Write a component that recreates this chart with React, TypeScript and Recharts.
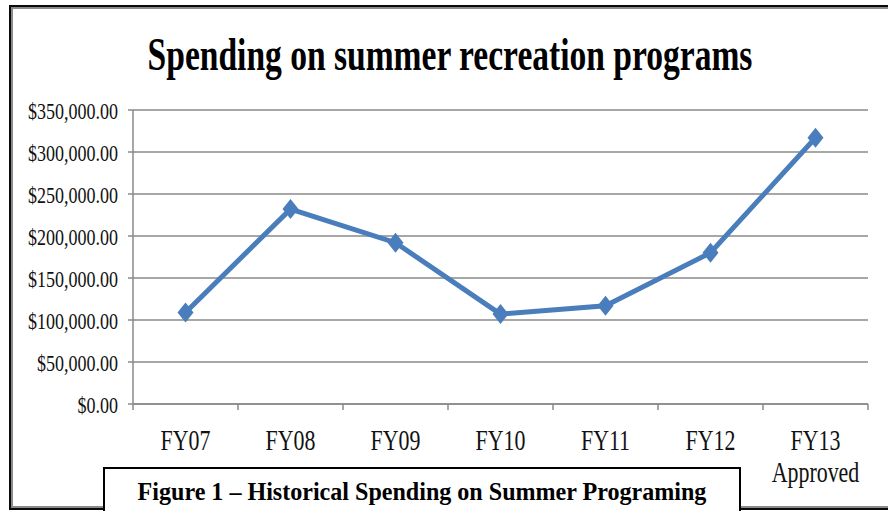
import React from 'react';
import { LineChart, Line, XAxis, YAxis, CartesianGrid } from 'recharts';

// values
const categories = ['FY07', 'FY08', 'FY09', 'FY10', 'FY11', 'FY12', 'FY13 Approved'];
const spending = [109000, 232000, 192000, 107000, 117000, 180000, 317000];
const yTicks = [0, 50000, 100000, 150000, 200000, 250000, 300000, 350000];

const title = 'Spending on summer recreation programs';
const caption = 'Figure 1 \u2013 Historical Spending on Summer Programing';

const data = categories.map((name, i) => ({ name, value: spending[i] }));

const serif = '"Liberation Serif", "Times New Roman", serif';
const lineBlue = '#4a7dbb';
const gridGray = '#8a8a8a';

const money = (v: number) =>
  '$' + v.toLocaleString('en-US', { minimumFractionDigits: 2, maximumFractionDigits: 2 });

// the source picture is squeezed sideways, so the text is too
const MoneyTick = (props: any) => {
  const { x, y, payload } = props;
  return (
    <g transform={`translate(${x},${y + 9})`}>
      <text transform="scale(0.75,1)" textAnchor="end" fontSize={24} fill="#111" fontFamily={serif}>
        {money(payload.value)}
      </text>
    </g>
  );
};

// label under the band centre, tick marks on the band edges (Excel style)
const CategoryTick = (props: any) => {
  const { x, y, payload, index, visibleTicksCount } = props;
  const half = payload.offset || 0;
  const lines = String(payload.value).split(' ');
  const isLast = index === (visibleTicksCount ?? categories.length) - 1;
  return (
    <g transform={`translate(${x},${y})`}>
      <line x1={-half} x2={-half} y1={0} y2={6} stroke={gridGray} strokeWidth={1.5} />
      {isLast && <line x1={half} x2={half} y1={0} y2={6} stroke={gridGray} strokeWidth={1.5} />}
      {lines.map((line, i) => (
        <text
          key={i}
          transform={`translate(0,${46 + i * 32}) scale(0.73,1)`}
          textAnchor="middle"
          fontSize={30}
          fill="#111"
          fontFamily={serif}
        >
          {line}
        </text>
      ))}
    </g>
  );
};

const Diamond = (props: any) => {
  const { cx, cy } = props;
  if (cx == null || cy == null) return null;
  return (
    <polygon
      points={`${cx},${cy - 10} ${cx + 8},${cy} ${cx},${cy + 10} ${cx - 8},${cy}`}
      fill={lineBlue}
    />
  );
};

export default function App() {
  return (
    <div style={{ position: 'absolute', left: 0, top: 0, width: 888, height: 511, background: '#fff', overflow: 'hidden' }}>
      {/* chart frame */}
      <div
        style={{
          position: 'absolute',
          left: 9,
          top: 5,
          width: 900,
          height: 505,
          boxSizing: 'border-box',
          border: '2px solid #0a0a0a',
          boxShadow: 'inset 2px 2px 0 #8a8a8a, inset -2px -2px 0 #8a8a8a',
        }}
      />
      <div style={{ position: 'absolute', left: 0, top: 0 }}>
        <LineChart width={888} height={511} data={data} margin={{ top: 110, right: 20, left: 13, bottom: 27 }}>
          <CartesianGrid vertical={false} stroke={gridGray} strokeWidth={1.5} />
          <XAxis
            dataKey="name"
            scale="band"
            height={80}
            interval={0}
            axisLine={{ stroke: gridGray, strokeWidth: 1.5 }}
            tickLine={false}
            tickSize={0}
            tickMargin={0}
            tick={<CategoryTick />}
          />
          <YAxis
            domain={[0, 350000]}
            ticks={yTicks}
            interval={0}
            width={120}
            tickSize={5}
            tickMargin={10}
            axisLine={{ stroke: gridGray, strokeWidth: 1.5 }}
            tickLine={{ stroke: gridGray, strokeWidth: 1.5 }}
            tick={<MoneyTick />}
          />
          <Line
            type="linear"
            dataKey="value"
            stroke={lineBlue}
            strokeWidth={5}
            dot={<Diamond />}
            activeDot={false}
            isAnimationActive={false}
          />
        </LineChart>
      </div>
      {/* title */}
      <svg width={888} height={100} style={{ position: 'absolute', left: 0, top: 0, overflow: 'visible' }}>
        <g transform="translate(450,70) scale(0.8,1)">
          <text
            x={0}
            y={0}
            textAnchor="middle"
            fontSize={46}
            fontWeight="bold"
            fontFamily={serif}
            fill="#000"
            textLength={756}
            lengthAdjust="spacingAndGlyphs"
          >
            {title}
          </text>
        </g>
      </svg>
      {/* figure caption box */}
      <div
        style={{
          position: 'absolute',
          left: 103,
          top: 467,
          width: 638,
          height: 60,
          boxSizing: 'border-box',
          border: '2px solid #000',
          background: '#fff',
        }}
      >
        <svg width={634} height={56} style={{ display: 'block', overflow: 'visible' }}>
          <g transform="translate(317,31) scale(0.9,1)">
            <text
              x={0}
              y={0}
              textAnchor="middle"
              fontSize={26}
              fontWeight="bold"
              fontFamily={serif}
              fill="#000"
              textLength={632}
              lengthAdjust="spacingAndGlyphs"
            >
              {caption}
            </text>
          </g>
        </svg>
      </div>
    </div>
  );
}
